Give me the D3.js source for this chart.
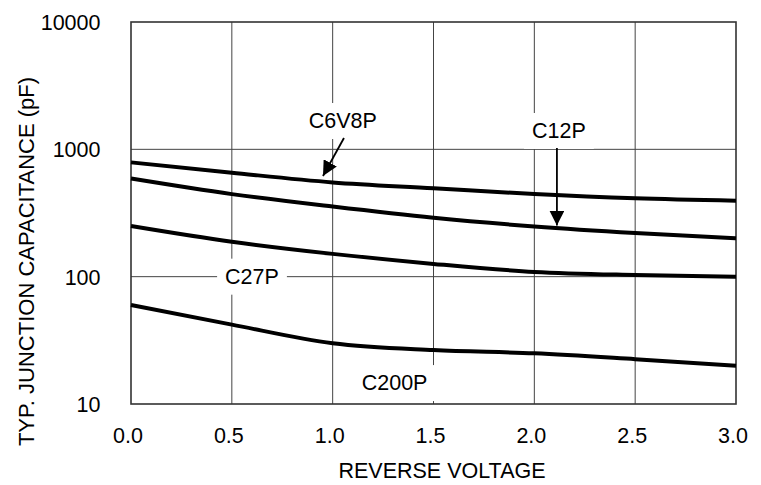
<!DOCTYPE html>
<html>
<head>
<meta charset="utf-8">
<script src="https://cdn.jsdelivr.net/npm/d3@7"></script>
<style>
  html, body { margin: 0; padding: 0; background: #fff; }
  svg text { font-family: "Liberation Sans", Arial, Helvetica, sans-serif; fill: #000; }
</style>
</head>
<body>
<svg id="chart" width="761" height="485"></svg>
<script>
// ---- data ----
const voltages = [0.0, 0.5, 1.0, 1.5, 2.0, 2.5, 3.0];
const seriesNames = ["C6V8P", "C12P", "C27P", "C200P"];
const c6v8p = [790, 655, 550, 495, 445, 412, 395];
const c12p  = [590, 445, 355, 290, 248, 220, 200];
const c27p  = [250, 188, 151, 126, 109, 103, 100];
const c200p = [60, 42, 30, 26.5, 25, 22.5, 20];
const xTicks = [0.0, 0.5, 1.0, 1.5, 2.0, 2.5, 3.0];
const yTicks = [10, 100, 1000, 10000];
const xTitle = "REVERSE VOLTAGE";
const yTitle = "TYP. JUNCTION CAPACITANCE (pF)";
// label anchors in data units: [voltage, capacitance]
const labelAt = [[1.05, 1669], [2.122, 1393], [0.6, 100], [1.307, 14.6]];
// arrows in data units: [fromV, fromC, toV, toC] (null = no arrow)
const arrowAt = [[1.056, 1227, 0.952, 617], [2.112, 1024, 2.112, 252], null, null];

const series = [c6v8p, c12p, c27p, c200p];

// ---- layout ----
const svg = d3.select("#chart");
const L = 131, R = 736, T = 22, B = 404;
const x = d3.scaleLinear().domain([0, 3]).range([L, R]);
const y = d3.scaleLog().domain([10, 10000]).range([B, T]);
const FS = 21.5;

// grid
const grid = svg.append("g");
grid.selectAll("line.v").data(xTicks.slice(1, -1)).join("line")
  .attr("x1", d => x(d)).attr("x2", d => x(d)).attr("y1", T).attr("y2", B)
  .attr("stroke", "#444").attr("stroke-width", 1);
grid.selectAll("line.h").data(yTicks.slice(1, -1)).join("line")
  .attr("x1", L).attr("x2", R).attr("y1", d => y(d)).attr("y2", d => y(d))
  .attr("stroke", "#444").attr("stroke-width", 1);

// frame
svg.append("rect").attr("x", L).attr("y", T).attr("width", R - L).attr("height", B - T)
  .attr("fill", "none").attr("stroke", "#333").attr("stroke-width", 1.6);

// curves
const line = d3.line().x((d, i) => x(voltages[i])).y(d => y(d)).curve(d3.curveMonotoneX);
svg.append("g").selectAll("path").data(series).join("path")
  .attr("d", d => line(d)).attr("fill", "none").attr("stroke", "#000")
  .attr("stroke-width", 4).attr("stroke-linecap", "butt");

// labels with white boxes
const lab = svg.append("g");
seriesNames.forEach((name, i) => {
  const [lv, lc] = labelAt[i];
  const g = lab.append("g");
  const t = g.append("text").attr("x", x(lv)).attr("y", y(lc))
    .attr("text-anchor", "middle").attr("dominant-baseline", "central")
    .attr("font-size", FS).text(name);
  const bb = t.node().getBBox();
  g.insert("rect", "text").attr("x", bb.x - 8).attr("y", y(lc) - 18)
    .attr("width", bb.width + 16).attr("height", 36).attr("fill", "#fff");
});

// arrows
svg.append("defs").append("marker").attr("id", "ah")
  .attr("viewBox", "0 0 10 10").attr("refX", 10).attr("refY", 5)
  .attr("markerWidth", 15).attr("markerHeight", 15).attr("markerUnits", "userSpaceOnUse")
  .attr("orient", "auto")
  .append("path").attr("d", "M0,0 L10,5 L0,10 Z").attr("fill", "#000");
arrowAt.forEach(a => {
  if (!a) return;
  svg.append("line").attr("x1", x(a[0])).attr("y1", y(a[1]))
    .attr("x2", x(a[2])).attr("y2", y(a[3]))
    .attr("stroke", "#000").attr("stroke-width", 1.8).attr("marker-end", "url(#ah)");
});

// axes
const xa = svg.append("g").attr("transform", `translate(0,${B})`)
  .call(d3.axisBottom(x).tickValues(xTicks).tickFormat(d3.format(".1f")).tickSize(0).tickPadding(24));
xa.select(".domain").remove();
xa.selectAll("text").attr("font-size", FS).attr("dx", -3.5)
  .attr("font-family", "Liberation Sans, Arial, sans-serif");

const ya = svg.append("g").attr("transform", `translate(${L},0)`)
  .call(d3.axisLeft(y).tickValues(yTicks).tickFormat(d3.format("d")).tickSize(0).tickPadding(30.5));
ya.select(".domain").remove();
ya.selectAll("text").attr("font-size", FS).attr("dy", "0.35em")
  .attr("font-family", "Liberation Sans, Arial, sans-serif");

// titles
svg.append("text").attr("x", 442).attr("y", 478).attr("text-anchor", "middle")
  .attr("font-size", FS).text(xTitle);
svg.append("text").attr("transform", "translate(26,261.5) rotate(-90)")
  .attr("text-anchor", "middle").attr("dominant-baseline", "central")
  .attr("font-size", 22).text(yTitle);
</script>
</body>
</html>
